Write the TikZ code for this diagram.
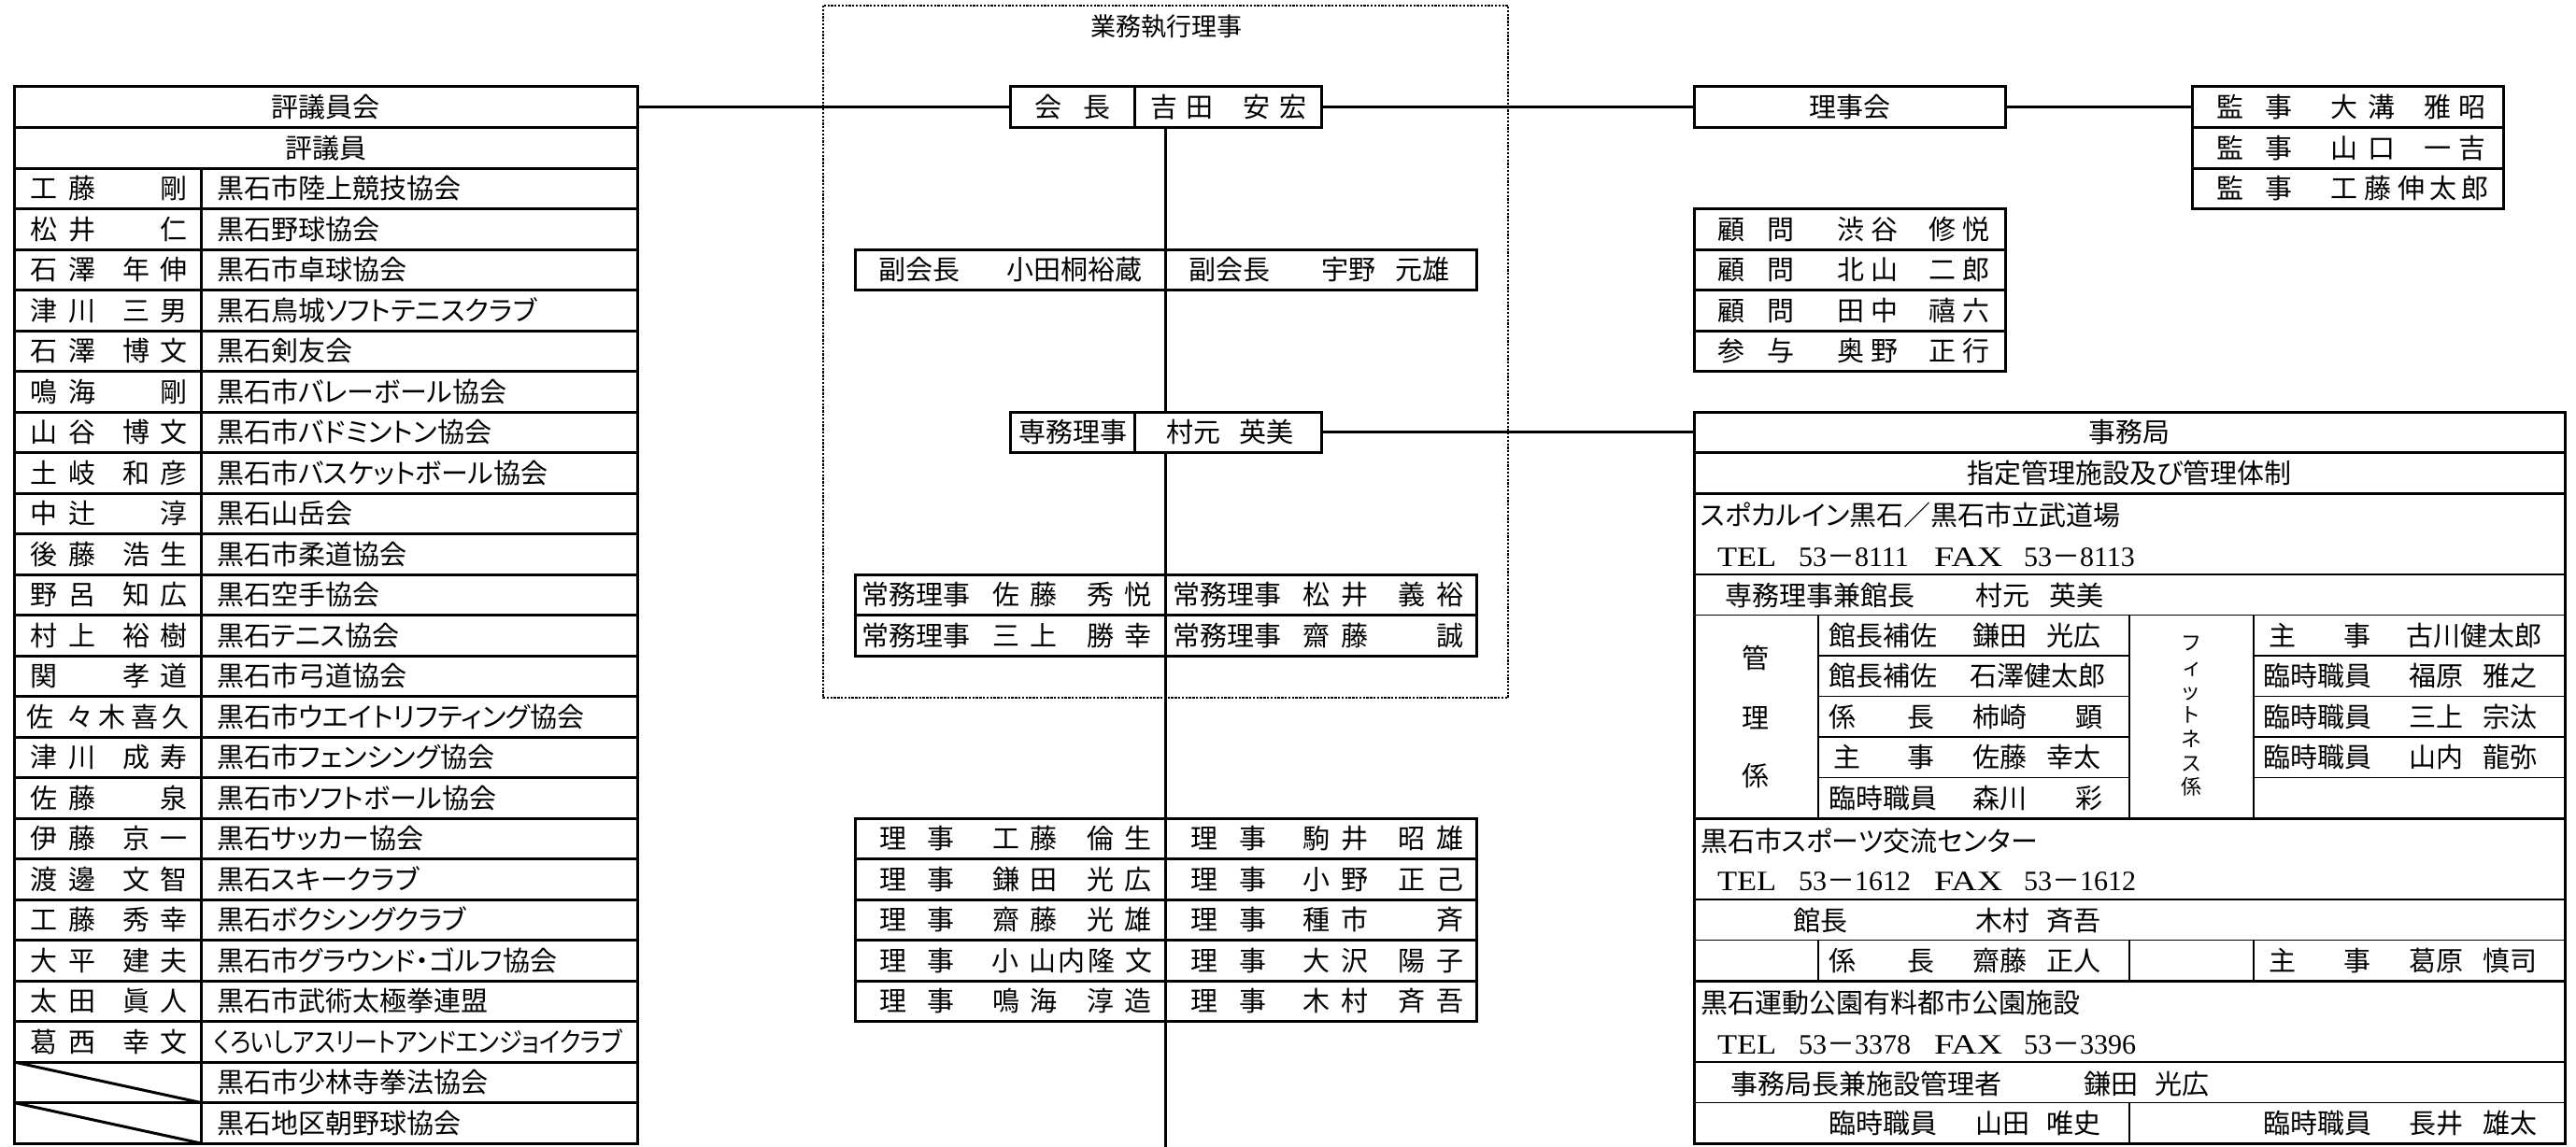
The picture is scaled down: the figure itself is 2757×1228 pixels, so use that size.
\documentclass[tikz,border=0pt]{standalone}
\usepackage{graphicx}
\usepackage{fontspec}
\setmainfont{Noto Sans CJK JP}[RawFeature=+palt]
\newfontfamily\jpw{Noto Sans CJK JP}
\newfontfamily\lat{Liberation Serif}
\newcounter{tn}
\newcommand\Tx[3]{\stepcounter{tn}\node[txt,anchor=west] (t\arabic{tn}) at (#1,#2) {#3};}
\newcommand\Cx[3]{\stepcounter{tn}\node[txt,anchor=center] (t\arabic{tn}) at (#1,#2) {#3};}
\newcommand\Bx[5]{\node[box,anchor=north west,minimum width=#4pt,minimum height=#5pt] (#1) at (#2,#3) {};}
\newcommand\LL{\lat\fontsize{30}{30}\selectfont}
\newcommand\Tel[5]{\Tx{1838}{#1}{\LL\scalebox{1.15}[1]{TEL}}\Tx{1925}{#1}{\LL #2\jpw －\LL #3}\Tx{2070}{#1}{\LL\scalebox{1.27}[1]{FAX}}\Tx{2166}{#1}{\LL #4\jpw －\LL #5}}
\begin{document}
\begin{tikzpicture}[x=1pt,y=-1pt,
  box/.style={draw,line width=3pt,inner sep=0pt,outer sep=0pt},
  txt/.style={inner sep=0pt,outer sep=0pt,font=\fontsize{29}{29}\selectfont,text height=24pt,text depth=2pt},
  thk/.style={line width=3pt},
  thn/.style={line width=1.8pt},
  conn/.style={line width=3pt},
  frame/.style={line width=2pt,black,dash pattern=on 2.3pt off 1.5pt}]
\fill[white] (0,0) rectangle (2757,1228);
\useasboundingbox (0,0) rectangle (2757,1228);

% ---------------- left table
\foreach \r in {0,...,25}{\node[box,anchor=north west,minimum width=667pt,minimum height=43.5pt] (L\r) at (15,{93+43.5*\r}) {};}
\draw[thk] (215,180) -- (215,1224);
\draw[thk] (15,1137) -- (215,1180.5);
\draw[thk] (15,1180.5) -- (215,1224);
\Cx{348.5}{114.75}{評議員会}
\Cx{348.5}{158.25}{評議員}
\foreach \r/\a/\b/\c/\d/\o in {2/工/藤//剛/黒石市陸上競技協会,3/松/井//仁/黒石野球協会,4/石/澤/年/伸/黒石市卓球協会,5/津/川/三/男/黒石鳥城ソフトテニスクラブ,6/石/澤/博/文/黒石剣友会,7/鳴/海//剛/黒石市バレーボール協会,8/山/谷/博/文/黒石市バドミントン協会,9/土/岐/和/彦/黒石市バスケットボール協会,10/中/辻//淳/黒石山岳会,11/後/藤/浩/生/黒石市柔道協会,12/野/呂/知/広/黒石空手協会,13/村/上/裕/樹/黒石テニス協会,14/関//孝/道/黒石市弓道協会,16/津/川/成/寿/黒石市フェンシング協会,17/佐/藤//泉/黒石市ソフトボール協会,18/伊/藤/京/一/黒石サッカー協会,19/渡/邊/文/智/黒石スキークラブ,20/工/藤/秀/幸/黒石ボクシングクラブ,21/大/平/建/夫/黒石市グラウンド・ゴルフ協会,22/太/田/眞/人/黒石市武術太極拳連盟}{
  \pgfmathsetmacro\yy{114.75+43.5*\r}
  \node[txt] (na\r) at (47,\yy) {\a};
  \node[txt] (nb\r) at (88,\yy) {\b};
  \node[txt] (nc\r) at (146,\yy) {\c};
  \node[txt] (nd\r) at (186,\yy) {\d};
  \node[txt,anchor=west] (no\r) at (232,\yy) {\o};
}
\Cx{47}{1115.25}{葛}\Cx{88}{1115.25}{西}\Cx{146}{1115.25}{幸}\Cx{186}{1115.25}{文}
\Tx{229}{1115.25}{\scalebox{0.865}[1]{くろいしアスリートアンドエンジョイクラブ}}
\Cx{43}{767.25}{佐}\Cx{85}{767.25}{々}\Cx{120}{767.25}{木}\Cx{155}{767.25}{喜}\Cx{188}{767.25}{久}
\Tx{232}{767.25}{黒石市ウエイトリフティング協会}
\Tx{232}{1158.75}{黒石市少林寺拳法協会}
\Tx{232}{1202.25}{黒石地区朝野球協会}

% ---------------- middle
\draw[frame] (881,6) rectangle (1614,747);
\stepcounter{tn}\node[txt,font=\fontsize{27}{27}\selectfont] (title) at (1248,28) {業務執行理事};
\Bx{kaicho}{1081}{93}{333}{43.5}
\draw[thk] (1214,93) -- (1214,136.5);
\Cx{1122}{114.75}{会}\Cx{1174}{114.75}{長}\Cx{1246}{114.75}{吉}\Cx{1284}{114.75}{田}\Cx{1345}{114.75}{安}\Cx{1384}{114.75}{宏}

\Bx{fuku}{915}{267}{665}{43.5}
\draw[thk] (fuku.north) -- (fuku.south);
\Tx{940}{288.75}{副会長}\Tx{1077}{288.75}{小田桐裕蔵}\Tx{1272}{288.75}{副会長}\Tx{1414}{288.75}{宇野}\Tx{1493}{288.75}{元雄}

\Bx{senmu}{1081}{441}{333}{43.5}
\draw[thk] (1214,441) -- (1214,484.5);
\Tx{1090}{462.75}{専務理事}\Tx{1248}{462.75}{村元}\Tx{1326}{462.75}{英美}

\Bx{joumu}{915}{615}{665}{87}
\draw[thk] (joumu.north) -- (joumu.south);
\draw[thk] (915,658.5) -- (1580,658.5);
\Tx{922}{636.75}{常務理事}\Tx{1255}{636.75}{常務理事}
\Tx{922}{680.25}{常務理事}\Tx{1255}{680.25}{常務理事}
\Cx{1077}{636.75}{佐}\Cx{1117}{636.75}{藤}\Cx{1178}{636.75}{秀}\Cx{1218}{636.75}{悦}
\Cx{1409}{636.75}{松}\Cx{1450}{636.75}{井}\Cx{1511}{636.75}{義}\Cx{1552}{636.75}{裕}
\Cx{1077}{680.25}{三}\Cx{1117}{680.25}{上}\Cx{1178}{680.25}{勝}\Cx{1218}{680.25}{幸}
\Cx{1409}{680.25}{齋}\Cx{1450}{680.25}{藤}\Cx{1552}{680.25}{誠}

\Bx{riji}{915}{876}{665}{217.5}
\draw[thk] (riji.north) -- (riji.south);
\foreach \yy in {919.5,963,1006.5,1050}{\draw[thk] (915,\yy) -- (1580,\yy);}
\foreach \r/\a/\b/\c/\d/\e/\f/\g/\h in {0/工/藤/倫/生/駒/井/昭/雄,1/鎌/田/光/広/小/野/正/己,2/齋/藤/光/雄/種/市//斉,4/鳴/海/淳/造/木/村/斉/吾}{
  \pgfmathsetmacro\yy{897.75+43.5*\r}
  \node[txt] (ra\r) at (956,\yy) {理};
  \node[txt] (rb\r) at (1007,\yy) {事};
  \node[txt] (rc\r) at (1289,\yy) {理};
  \node[txt] (rd\r) at (1341,\yy) {事};
  \node[txt] (r1\r) at (1077,\yy) {\a};
  \node[txt] (r2\r) at (1117,\yy) {\b};
  \node[txt] (r3\r) at (1178,\yy) {\c};
  \node[txt] (r4\r) at (1218,\yy) {\d};
  \node[txt] (r5\r) at (1409,\yy) {\e};
  \node[txt] (r6\r) at (1450,\yy) {\f};
  \node[txt] (r7\r) at (1511,\yy) {\g};
  \node[txt] (r8\r) at (1552,\yy) {\h};
}
\Cx{956}{1028.25}{理}\Cx{1007}{1028.25}{事}\Cx{1289}{1028.25}{理}\Cx{1341}{1028.25}{事}
\Cx{1076}{1028.25}{小}\Cx{1116}{1028.25}{山}\Cx{1147}{1028.25}{内}\Cx{1179}{1028.25}{隆}\Cx{1219}{1028.25}{文}
\Cx{1409}{1028.25}{大}\Cx{1450}{1028.25}{沢}\Cx{1511}{1028.25}{陽}\Cx{1552}{1028.25}{子}

\coordinate (bot) at (1247.5,1228);
\draw[conn] (kaicho.south) -- (fuku.north);
\draw[conn] (fuku.south) -- (senmu.north);
\draw[conn] (senmu.south) -- (joumu.north);
\draw[conn] (joumu.south) -- (riji.north);
\draw[conn] (riji.south) -- (bot);

% ---------------- right upper
\Bx{rijikai}{1813}{93}{333}{43.5}
\Cx{1979.5}{114.75}{理事会}
\foreach \k in {0,1,2}{\node[box,anchor=north west,minimum width=333pt,minimum height=43.5pt] (K\k) at (2346,{93+43.5*\k}) {};}
\foreach \k/\a/\b/\c/\d in {0/大/溝/雅/昭,1/山/口/一/吉}{
  \pgfmathsetmacro\yy{114.75+43.5*\k}
  \node[txt] (ka\k) at (2387,\yy) {監};
  \node[txt] (kb\k) at (2439,\yy) {事};
  \node[txt] (kc\k) at (2509,\yy) {\a};
  \node[txt] (kd\k) at (2549,\yy) {\b};
  \node[txt] (ke\k) at (2609,\yy) {\c};
  \node[txt] (kf\k) at (2646,\yy) {\d};
}
\Cx{2387}{201.75}{監}\Cx{2439}{201.75}{事}
\Cx{2509}{201.75}{工}\Cx{2545}{201.75}{藤}\Cx{2581}{201.75}{伸}\Cx{2615}{201.75}{太}\Cx{2649}{201.75}{郎}

\foreach \k/\p/\q/\a/\b/\c/\d in {0/顧/問/渋/谷/修/悦,1/顧/問/北/山/二/郎,2/顧/問/田/中/禧/六,3/参/与/奥/野/正/行}{
  \node[box,anchor=north west,minimum width=333pt,minimum height=43.5pt] (G\k) at (1813,{223.5+43.5*\k}) {};
  \pgfmathsetmacro\yy{245.25+43.5*\k}
  \node[txt] (ga\k) at (1853,\yy) {\p};
  \node[txt] (gb\k) at (1906,\yy) {\q};
  \node[txt] (gc\k) at (1981,\yy) {\a};
  \node[txt] (gd\k) at (2017,\yy) {\b};
  \node[txt] (ge\k) at (2079,\yy) {\c};
  \node[txt] (gf\k) at (2115,\yy) {\d};
}

% ---------------- jimukyoku
\Bx{J}{1813}{441}{932}{783}
\Bx{J0}{1813}{441}{932}{43.5}
\draw[thk] (1813,528) -- (2745,528);
\draw[thn] (1813,615) -- (2745,615);
\draw[thn] (1813,658.5) -- (2745,658.5);
\foreach \yy in {702,745.5,789,832.5}{\draw[thn] (1946,\yy) -- (2279,\yy); \draw[thn] (2412,\yy) -- (2745,\yy);}
\draw[thk] (1813,876) -- (2745,876);
\draw[thn] (1813,963) -- (2745,963);
\draw[thn] (1813,1006.5) -- (2745,1006.5);
\draw[thk] (1813,1050) -- (2745,1050);
\draw[thn] (1813,1137) -- (2745,1137);
\draw[thn] (1813,1180.5) -- (2745,1180.5);
\foreach \xx in {1946,2279,2412}{\draw[thn] (\xx,658.5) -- (\xx,876); \draw[thn] (\xx,1006.5) -- (\xx,1050);}
\draw[thn] (2279,1180.5) -- (2279,1224);

\Cx{2279}{462.75}{事務局}
\Cx{2279}{506.25}{指定管理施設及び管理体制}
\Tx{1820}{551}{スポカルイン黒石／黒石市立武道場}
\Tel{595}{53}{8111}{53}{8113}
\Tx{1846}{637}{専務理事兼館長}\Tx{2114}{637}{村元}\Tx{2193}{637}{英美}
\Cx{1879}{704}{管}\Cx{1879}{768}{理}\Cx{1879}{830}{係}
\Tx{1957}{680.25}{館長補佐}\Tx{2111}{680.25}{鎌田}\Tx{2190}{680.25}{光広}
\Tx{1957}{723.75}{館長補佐}\Tx{2108}{723.75}{石澤健太郎}
\Tx{1957}{767.25}{係}\Tx{2041}{767.25}{長}\Tx{2111}{767.25}{柿崎}\Tx{2221}{767.25}{顕}
\Tx{1962}{810.75}{主}\Tx{2041}{810.75}{事}\Tx{2111}{810.75}{佐藤}\Tx{2190}{810.75}{幸太}
\Tx{1957}{854.25}{臨時職員}\Tx{2111}{854.25}{森川}\Tx{2221}{854.25}{彩}
\Tx{2428}{680.25}{主}\Tx{2508}{680.25}{事}\Tx{2575}{680.25}{古川健太郎}
\Tx{2422}{723.75}{臨時職員}\Tx{2578}{723.75}{福原}\Tx{2657}{723.75}{雅之}
\Tx{2422}{767.25}{臨時職員}\Tx{2578}{767.25}{三上}\Tx{2657}{767.25}{宗汰}
\Tx{2422}{810.75}{臨時職員}\Tx{2578}{810.75}{山内}\Tx{2657}{810.75}{龍弥}
\node[inner sep=0pt,align=center,font=\fontsize{22}{25.7}\selectfont] (fitness) at (2345,767) {フ\\ィ\\ッ\\ト\\ネ\\ス\\係};
\Tx{1820}{900}{黒石市スポーツ交流センター}
\Tel{942}{53}{1612}{53}{1612}
\Tx{1919}{985}{館長}\Tx{2114}{985}{木村}\Tx{2190}{985}{斉吾}
\Tx{1957}{1028.25}{係}\Tx{2041}{1028.25}{長}\Tx{2111}{1028.25}{齋藤}\Tx{2190}{1028.25}{正人}
\Tx{2428}{1028.25}{主}\Tx{2508}{1028.25}{事}\Tx{2578}{1028.25}{葛原}\Tx{2657}{1028.25}{慎司}
\Tx{1820}{1073}{黒石運動公園有料都市公園施設}
\Tel{1117}{53}{3378}{53}{3396}
\Tx{1852}{1160}{事務局長兼施設管理者}\Tx{2230}{1160}{鎌田}\Tx{2306}{1160}{光広}
\Tx{1957}{1202.25}{臨時職員}\Tx{2114}{1202.25}{山田}\Tx{2190}{1202.25}{唯史}
\Tx{2422}{1202.25}{臨時職員}\Tx{2578}{1202.25}{長井}\Tx{2657}{1202.25}{雄太}

% ---------------- connectors
\draw[conn] (L0.east) -- (kaicho.west);
\draw[conn] (kaicho.east) -- (rijikai.west);
\draw[conn] (rijikai.east) -- (K0.west);
\draw[conn] (senmu.east) -- (J0.west);
\end{tikzpicture}
\end{document}
